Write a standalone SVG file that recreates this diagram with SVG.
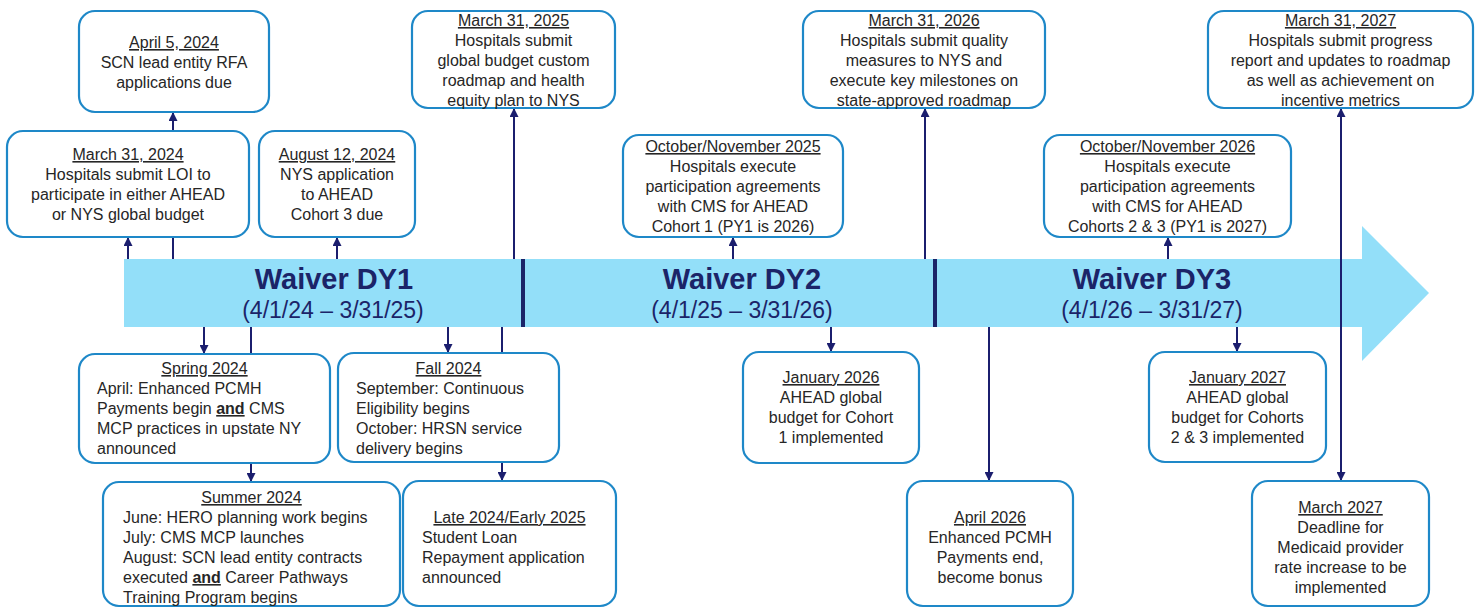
<svg xmlns="http://www.w3.org/2000/svg" width="1478" height="608" viewBox="0 0 1478 608">
<style>
.box{fill:#ffffff;stroke:#1E88C8;stroke-width:2.2}
.t{font-family:"Liberation Sans",Arial,sans-serif;font-size:16px;fill:#262626}
.c{text-anchor:middle}
.u{text-decoration:underline}
.b{font-weight:bold;text-decoration:underline}
.conn{stroke:#1B1E6E;stroke-width:2;fill:none}
.band{fill:#93DFF9}
.div{stroke:#1B2468;stroke-width:4}
.h{font-family:"Liberation Sans",Arial,sans-serif;font-size:29px;font-weight:bold;fill:#1B2468;text-anchor:middle}
.d{font-family:"Liberation Sans",Arial,sans-serif;font-size:23px;fill:#1B2468;text-anchor:middle}
</style>
<defs>
<marker id="ah" markerUnits="userSpaceOnUse" markerWidth="9" markerHeight="9" refX="8" refY="4.5" orient="auto">
<path d="M0,0 L9,4.5 L0,9 z" fill="#1B1E6E"/>
</marker>
</defs>

<g id="band">
<path class="band" d="M124,259 H1362 V226 L1429,293 L1362,361 V327 H124 Z"/>
<line class="div" x1="523" y1="259" x2="523" y2="327"/>
<line class="div" x1="935" y1="259" x2="935" y2="327"/>
<text class="h" x="334" y="289">Waiver DY1</text>
<text class="d" x="333" y="318">(4/1/24 – 3/31/25)</text>
<text class="h" x="742" y="289">Waiver DY2</text>
<text class="d" x="742" y="318">(4/1/25 – 3/31/26)</text>
<text class="h" x="1152" y="289">Waiver DY3</text>
<text class="d" x="1152" y="318">(4/1/26 – 3/31/27)</text>
</g>

<g id="connectors">
<path class="conn" marker-end="url(#ah)" d="M128,259 V238"/>
<path class="conn" marker-end="url(#ah)" d="M173,259 V113"/>
<path class="conn" marker-end="url(#ah)" d="M337,259 V238"/>
<path class="conn" marker-end="url(#ah)" d="M514,259 V109"/>
<path class="conn" marker-end="url(#ah)" d="M733,259 V238"/>
<path class="conn" marker-end="url(#ah)" d="M925,259 V109"/>
<path class="conn" marker-end="url(#ah)" d="M1168,259 V238"/>
<path class="conn" marker-end="url(#ah)" d="M1341,300 V109"/>
<path class="conn" marker-end="url(#ah)" d="M1341,300 V480"/>
<path class="conn" marker-end="url(#ah)" d="M204,327 V353"/>
<path class="conn" marker-end="url(#ah)" d="M251,327 V481"/>
<path class="conn" marker-end="url(#ah)" d="M448,327 V352"/>
<path class="conn" marker-end="url(#ah)" d="M502,327 V480"/>
<path class="conn" marker-end="url(#ah)" d="M831,327 V351"/>
<path class="conn" marker-end="url(#ah)" d="M989,327 V480"/>
<path class="conn" marker-end="url(#ah)" d="M1237,327 V351"/>
</g>

<g id="n-apr5-2024">
<rect class="box" x="79" y="11" width="190" height="101" rx="16"/>
<text class="t c" x="174" y="48"><tspan class="u">April 5, 2024</tspan></text>
<text class="t c" x="174" y="68">SCN lead entity RFA</text>
<text class="t c" x="174" y="88">applications due</text>
</g>

<g id="n-mar31-2024">
<rect class="box" x="7" y="131" width="242" height="106" rx="16"/>
<text class="t c" x="128" y="160"><tspan class="u">March 31, 2024</tspan></text>
<text class="t c" x="128" y="180">Hospitals submit LOI to</text>
<text class="t c" x="128" y="200">participate in either AHEAD</text>
<text class="t c" x="128" y="220">or NYS global budget</text>
</g>

<g id="n-aug12-2024">
<rect class="box" x="259" y="131" width="156" height="106" rx="16"/>
<text class="t c" x="337" y="160"><tspan class="u">August 12, 2024</tspan></text>
<text class="t c" x="337" y="180">NYS application</text>
<text class="t c" x="337" y="200">to AHEAD</text>
<text class="t c" x="337" y="220">Cohort 3 due</text>
</g>

<g id="n-mar31-2025">
<rect class="box" x="412" y="11" width="203" height="97" rx="16"/>
<text class="t c" x="513.5" y="26"><tspan class="u">March 31, 2025</tspan></text>
<text class="t c" x="513.5" y="46">Hospitals submit</text>
<text class="t c" x="513.5" y="66">global budget custom</text>
<text class="t c" x="513.5" y="86">roadmap and health</text>
<text class="t c" x="513.5" y="106">equity plan to NYS</text>
</g>

<g id="n-octnov-2025">
<rect class="box" x="623" y="135" width="220" height="102" rx="16"/>
<text class="t c" x="733" y="152"><tspan class="u">October/November 2025</tspan></text>
<text class="t c" x="733" y="172">Hospitals execute</text>
<text class="t c" x="733" y="192">participation agreements</text>
<text class="t c" x="733" y="212">with CMS for AHEAD</text>
<text class="t c" x="733" y="232">Cohort 1 (PY1 is 2026)</text>
</g>

<g id="n-mar31-2026">
<rect class="box" x="803" y="11" width="242" height="97" rx="16"/>
<text class="t c" x="924" y="26"><tspan class="u">March 31, 2026</tspan></text>
<text class="t c" x="924" y="46">Hospitals submit quality</text>
<text class="t c" x="924" y="66">measures to NYS and</text>
<text class="t c" x="924" y="86">execute key milestones on</text>
<text class="t c" x="924" y="106">state-approved roadmap</text>
</g>

<g id="n-octnov-2026">
<rect class="box" x="1044" y="135" width="247" height="102" rx="16"/>
<text class="t c" x="1167.5" y="152"><tspan class="u">October/November 2026</tspan></text>
<text class="t c" x="1167.5" y="172">Hospitals execute</text>
<text class="t c" x="1167.5" y="192">participation agreements</text>
<text class="t c" x="1167.5" y="212">with CMS for AHEAD</text>
<text class="t c" x="1167.5" y="232">Cohorts 2 &amp; 3 (PY1 is 2027)</text>
</g>

<g id="n-mar31-2027">
<rect class="box" x="1208" y="11" width="265" height="97" rx="16"/>
<text class="t c" x="1340.5" y="26"><tspan class="u">March 31, 2027</tspan></text>
<text class="t c" x="1340.5" y="46">Hospitals submit progress</text>
<text class="t c" x="1340.5" y="66">report and updates to roadmap</text>
<text class="t c" x="1340.5" y="86">as well as achievement on</text>
<text class="t c" x="1340.5" y="106">incentive metrics</text>
</g>

<g id="n-spring-2024">
<rect class="box" x="79" y="354" width="251" height="109" rx="16"/>
<text class="t c" x="204.5" y="374"><tspan class="u">Spring 2024</tspan></text>
<text class="t" x="97" y="394">April: Enhanced PCMH</text>
<text class="t" x="97" y="414">Payments begin <tspan class="b">and</tspan> CMS</text>
<text class="t" x="97" y="434">MCP practices in upstate NY</text>
<text class="t" x="97" y="454">announced</text>
</g>

<g id="n-fall-2024">
<rect class="box" x="338" y="353" width="221" height="109" rx="16"/>
<text class="t c" x="448.5" y="374"><tspan class="u">Fall 2024</tspan></text>
<text class="t" x="356" y="394">September: Continuous</text>
<text class="t" x="356" y="414">Eligibility begins</text>
<text class="t" x="356" y="434">October: HRSN service</text>
<text class="t" x="356" y="454">delivery begins</text>
</g>

<g id="n-summer-2024">
<rect class="box" x="103" y="482" width="297" height="124" rx="16"/>
<text class="t c" x="251.5" y="503"><tspan class="u">Summer 2024</tspan></text>
<text class="t" x="123" y="523">June: HERO planning work begins</text>
<text class="t" x="123" y="543">July: CMS MCP launches</text>
<text class="t" x="123" y="563">August: SCN lead entity contracts</text>
<text class="t" x="123" y="583">executed <tspan class="b">and</tspan> Career Pathways</text>
<text class="t" x="123" y="603">Training Program begins</text>
</g>

<g id="n-late-2024">
<rect class="box" x="403" y="481" width="213" height="125" rx="16"/>
<text class="t c" x="509.5" y="523"><tspan class="u">Late 2024/Early 2025</tspan></text>
<text class="t" x="422" y="543">Student Loan</text>
<text class="t" x="422" y="563">Repayment application</text>
<text class="t" x="422" y="583">announced</text>
</g>

<g id="n-jan-2026">
<rect class="box" x="743" y="352" width="176" height="111" rx="16"/>
<text class="t c" x="831" y="383"><tspan class="u">January 2026</tspan></text>
<text class="t c" x="831" y="403">AHEAD global</text>
<text class="t c" x="831" y="423">budget for Cohort</text>
<text class="t c" x="831" y="443">1 implemented</text>
</g>

<g id="n-apr-2026">
<rect class="box" x="907" y="481" width="166" height="125" rx="16"/>
<text class="t c" x="990" y="523"><tspan class="u">April 2026</tspan></text>
<text class="t c" x="990" y="543">Enhanced PCMH</text>
<text class="t c" x="990" y="563">Payments end,</text>
<text class="t c" x="990" y="583">become bonus</text>
</g>

<g id="n-jan-2027">
<rect class="box" x="1149" y="352" width="177" height="110" rx="16"/>
<text class="t c" x="1237.5" y="383"><tspan class="u">January 2027</tspan></text>
<text class="t c" x="1237.5" y="403">AHEAD global</text>
<text class="t c" x="1237.5" y="423">budget for Cohorts</text>
<text class="t c" x="1237.5" y="443">2 &amp; 3 implemented</text>
</g>

<g id="n-mar-2027">
<rect class="box" x="1252" y="481" width="177" height="125" rx="16"/>
<text class="t c" x="1340.5" y="513"><tspan class="u">March 2027</tspan></text>
<text class="t c" x="1340.5" y="533">Deadline for</text>
<text class="t c" x="1340.5" y="553">Medicaid provider</text>
<text class="t c" x="1340.5" y="573">rate increase to be</text>
<text class="t c" x="1340.5" y="593">implemented</text>
</g>
</svg>
